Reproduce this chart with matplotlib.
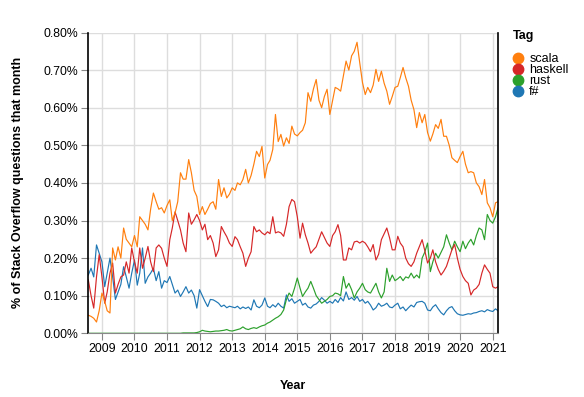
import matplotlib
matplotlib.use("Agg")
import matplotlib.pyplot as plt
import matplotlib.dates as mdates
from matplotlib.lines import Line2D
import pandas as pd

plt.rcParams['font.family'] = ['Liberation Sans', 'DejaVu Sans']

# Monthly data, Aug 2008 .. Mar 2021 (values in % of questions)
start_month = "2008-08-01"

scala = [
    0.048, 0.045, 0.040, 0.030, 0.060,
    0.107, 0.085, 0.060, 0.054, 0.227, 0.195, 0.230, 0.200, 0.280, 0.250, 0.240, 0.230,
    0.260, 0.230, 0.310, 0.300, 0.290, 0.275, 0.330, 0.373, 0.350, 0.330, 0.334, 0.320,
    0.340, 0.355, 0.300, 0.320, 0.350, 0.427, 0.410, 0.410, 0.462, 0.427, 0.380, 0.364,
    0.316, 0.337, 0.316, 0.330, 0.345, 0.350, 0.330, 0.409, 0.364, 0.387, 0.360, 0.370,
    0.387, 0.380, 0.400, 0.395, 0.409, 0.436, 0.400, 0.420, 0.450, 0.484, 0.470, 0.497,
    0.413, 0.449, 0.460, 0.489, 0.582, 0.510, 0.529, 0.498, 0.520, 0.505, 0.551, 0.530,
    0.525, 0.534, 0.540, 0.560, 0.640, 0.617, 0.650, 0.675, 0.620, 0.600, 0.630, 0.649,
    0.582, 0.620, 0.654, 0.650, 0.644, 0.684, 0.724, 0.700, 0.738, 0.750, 0.774, 0.720,
    0.667, 0.635, 0.654, 0.640, 0.660, 0.702, 0.670, 0.697, 0.665, 0.644, 0.609, 0.630,
    0.654, 0.657, 0.680, 0.707, 0.680, 0.657, 0.620, 0.595, 0.547, 0.587, 0.560, 0.582,
    0.534, 0.511, 0.530, 0.555, 0.545, 0.569, 0.524, 0.524, 0.500, 0.467, 0.460, 0.454,
    0.470, 0.484, 0.450, 0.427, 0.430, 0.427, 0.400, 0.390, 0.369, 0.409, 0.347, 0.334,
    0.310, 0.347, 0.350,
]

haskell = [
    0.142, 0.100, 0.067, 0.150, 0.209,
    0.150, 0.080, 0.110, 0.160, 0.187, 0.107, 0.130, 0.150, 0.155, 0.190, 0.160, 0.227,
    0.190, 0.160, 0.227, 0.173, 0.200, 0.231, 0.190, 0.164, 0.227, 0.235, 0.226, 0.200,
    0.178, 0.249, 0.280, 0.323, 0.300, 0.275, 0.240, 0.217, 0.320, 0.290, 0.302, 0.316,
    0.300, 0.275, 0.290, 0.249, 0.260, 0.240, 0.204, 0.222, 0.284, 0.270, 0.257, 0.240,
    0.231, 0.257, 0.249, 0.230, 0.213, 0.178, 0.200, 0.217, 0.284, 0.270, 0.275, 0.267,
    0.262, 0.270, 0.265, 0.310, 0.267, 0.270, 0.267, 0.258, 0.290, 0.337, 0.356, 0.350,
    0.310, 0.253, 0.293, 0.262, 0.240, 0.213, 0.222, 0.230, 0.250, 0.270, 0.255, 0.240,
    0.231, 0.260, 0.270, 0.289, 0.260, 0.195, 0.195, 0.227, 0.222, 0.243, 0.245, 0.240,
    0.245, 0.240, 0.230, 0.217, 0.236, 0.195, 0.210, 0.249, 0.265, 0.280, 0.254, 0.222,
    0.222, 0.258, 0.240, 0.230, 0.200, 0.185, 0.178, 0.190, 0.213, 0.231, 0.249, 0.220,
    0.187, 0.200, 0.222, 0.190, 0.170, 0.155, 0.165, 0.178, 0.200, 0.222, 0.236, 0.200,
    0.170, 0.151, 0.140, 0.133, 0.102, 0.115, 0.120, 0.130, 0.160, 0.182, 0.170, 0.160,
    0.124, 0.120, 0.124,
]

rust = [
    0.000, 0.000, 0.000, 0.000, 0.000,
    0.000, 0.000, 0.000, 0.000, 0.000, 0.000, 0.000, 0.000, 0.000, 0.000, 0.000, 0.000,
    0.000, 0.000, 0.000, 0.000, 0.000, 0.000, 0.000, 0.000, 0.000, 0.000, 0.000, 0.000,
    0.000, 0.000, 0.000, 0.000, 0.000, 0.000, 0.001, 0.001, 0.001, 0.001, 0.001, 0.002,
    0.004, 0.008, 0.006, 0.005, 0.004, 0.005, 0.006, 0.006, 0.007, 0.008, 0.010, 0.007,
    0.006, 0.008, 0.010, 0.012, 0.017, 0.012, 0.010, 0.013, 0.015, 0.013, 0.017, 0.020,
    0.022, 0.027, 0.030, 0.035, 0.040, 0.044, 0.050, 0.062, 0.090, 0.107, 0.098, 0.120,
    0.147, 0.120, 0.098, 0.110, 0.120, 0.138, 0.120, 0.100, 0.090, 0.080, 0.085, 0.090,
    0.098, 0.100, 0.107, 0.105, 0.100, 0.151, 0.120, 0.133, 0.116, 0.094, 0.110, 0.120,
    0.133, 0.116, 0.110, 0.107, 0.120, 0.133, 0.110, 0.094, 0.110, 0.173, 0.138, 0.155,
    0.140, 0.145, 0.151, 0.140, 0.150, 0.147, 0.160, 0.147, 0.155, 0.147, 0.200, 0.216,
    0.240, 0.164, 0.190, 0.213, 0.200, 0.215, 0.230, 0.262, 0.240, 0.222, 0.245, 0.230,
    0.217, 0.245, 0.225, 0.240, 0.250, 0.235, 0.260, 0.280, 0.275, 0.249, 0.316, 0.300,
    0.293, 0.310, 0.333,
]

fsharp = [
    0.155, 0.173, 0.150, 0.235, 0.213,
    0.190, 0.124, 0.160, 0.200, 0.150, 0.090, 0.110, 0.130, 0.177, 0.150, 0.120, 0.160,
    0.195, 0.128, 0.160, 0.227, 0.133, 0.150, 0.160, 0.173, 0.140, 0.164, 0.120, 0.140,
    0.135, 0.151, 0.130, 0.107, 0.115, 0.098, 0.110, 0.124, 0.107, 0.115, 0.100, 0.067,
    0.116, 0.100, 0.085, 0.071, 0.090, 0.089, 0.085, 0.080, 0.071, 0.075, 0.068, 0.072,
    0.070, 0.068, 0.072, 0.065, 0.070, 0.066, 0.070, 0.062, 0.089, 0.072, 0.068, 0.075,
    0.094, 0.072, 0.068, 0.076, 0.070, 0.080, 0.072, 0.067, 0.102, 0.085, 0.092, 0.080,
    0.085, 0.090, 0.075, 0.080, 0.070, 0.067, 0.075, 0.078, 0.085, 0.095, 0.088, 0.080,
    0.085, 0.080, 0.090, 0.082, 0.095, 0.086, 0.110, 0.090, 0.095, 0.088, 0.098, 0.085,
    0.090, 0.080, 0.085, 0.075, 0.062, 0.068, 0.080, 0.072, 0.075, 0.080, 0.070, 0.068,
    0.075, 0.080, 0.065, 0.070, 0.060, 0.068, 0.075, 0.070, 0.082, 0.084, 0.085, 0.080,
    0.062, 0.060, 0.070, 0.076, 0.065, 0.055, 0.049, 0.060, 0.068, 0.071, 0.060, 0.052,
    0.049, 0.048, 0.050, 0.052, 0.051, 0.054, 0.055, 0.058, 0.060, 0.057, 0.063, 0.060,
    0.058, 0.065, 0.060,
]

tags = ["scala", "haskell", "rust", "f#"]
series = [scala, haskell, rust, fsharp]
colors = ["#ff7f0e", "#d62728", "#2ca02c", "#1f77b4"]
y_ticks = [0.0, 0.1, 0.2, 0.3, 0.4, 0.5, 0.6, 0.7, 0.8]

months = pd.date_range(start_month, periods=len(scala), freq="MS")

W, H = 584, 397
fig = plt.figure(figsize=(W / 100, H / 100), dpi=100)
ax = fig.add_axes([88.3 / W, 1 - 333.3 / H, (498 - 88.3) / W, (333.3 - 32.5) / H])

for tag, vals, c in zip(tags[::-1], series[::-1], colors[::-1]):
    ax.plot(months, vals, color=c, lw=0.85)

ax.set_xlim(months[0], months[-1])
ax.set_ylim(0, 0.8)
ax.set_yticks(y_ticks)
ax.set_yticklabels([f"{v:.2f}%" for v in y_ticks])
ax.xaxis.set_major_locator(mdates.YearLocator())
ax.xaxis.set_major_formatter(mdates.DateFormatter("%Y"))

ax.grid(True, color="#dddddd", lw=1.0)
ax.set_axisbelow(True)
ax.spines["top"].set_visible(False)
ax.spines["left"].set_color("black")
ax.spines["right"].set_color("black")
ax.spines["bottom"].set_color("#888888")
ax.spines["left"].set_linewidth(1.2)
ax.spines["right"].set_linewidth(1.2)
ax.tick_params(axis="y", length=5, color="#888888", labelsize=8.8, pad=2, labelcolor="black")
ax.tick_params(axis="x", length=5, color="#888888", labelsize=8.9, pad=2, labelcolor="black")

fig.text(18 / W, 1 - 182.5 / H, "% of Stack Overflow questions that month", rotation=90,
         ha="center", va="center", fontsize=9, fontweight="bold")
fig.text(293 / W, 1 - 386 / H, "Year", ha="center", va="center", fontsize=9, fontweight="bold")

handles = [Line2D([], [], marker="o", ls="none", color=c, markersize=7.5) for c in colors]
leg = ax.legend(handles, tags, title="Tag", loc="upper left",
                bbox_to_anchor=(513 / W, 1 - 30 / H), bbox_transform=fig.transFigure,
                frameon=False, fontsize=9, title_fontsize=9, labelspacing=-0.08,
                handlelength=0.8, handletextpad=0.5, borderaxespad=0, borderpad=0,
                alignment="left")
leg.get_title().set_fontweight("bold")
leg._legend_box.sep = 8

fig.savefig("out.png", dpi=100)
